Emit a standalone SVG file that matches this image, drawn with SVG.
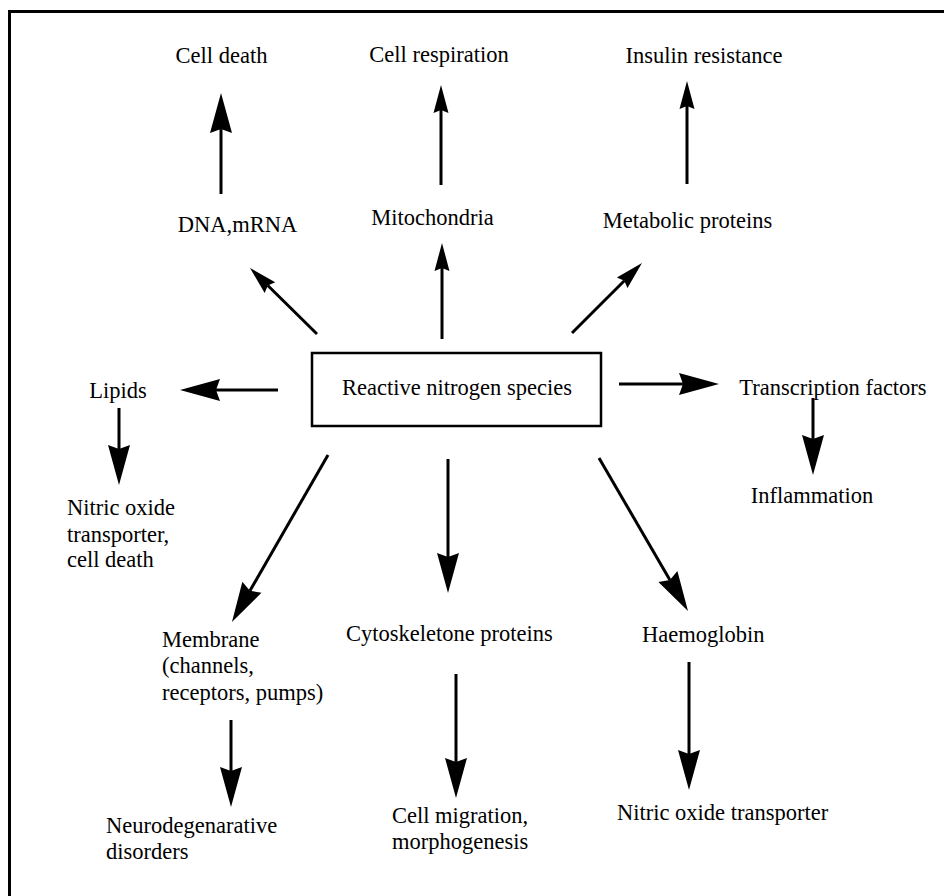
<svg xmlns="http://www.w3.org/2000/svg" width="944" height="896" viewBox="0 0 944 896">
<style>
text{font-family:"Liberation Serif","Times New Roman",serif;font-size:22.5px;fill:#000}
.c{text-anchor:middle}
.ln{stroke:#000;stroke-width:3;fill:none}
.big{marker-end:url(#big)}
.sm{marker-end:url(#sm)}
</style>
<defs>
<marker id="big" markerUnits="userSpaceOnUse" orient="auto" refX="4" refY="0" markerWidth="40" markerHeight="22" overflow="visible"><path d="M0,-11 L40,0 L0,11 L4,0 Z" fill="#000"/></marker>
<marker id="sm" markerUnits="userSpaceOnUse" orient="auto" refX="3" refY="0" markerWidth="28" markerHeight="15" overflow="visible"><path d="M0,-7.5 L28,0 L0,7.5 L3,0 Z" fill="#000"/></marker>
</defs>
<rect x="0" y="0" width="944" height="896" fill="#fff"/>
<rect x="9.5" y="11.5" width="1000" height="1000" fill="none" stroke="#000" stroke-width="3"/>
<g id="connectors">
<line class="ln big" x1="221" y1="194" x2="221" y2="129"/>
<line class="ln sm" x1="441" y1="185" x2="441" y2="110"/>
<line class="ln sm" x1="687" y1="184" x2="687" y2="106"/>
<line class="ln sm" x1="442" y1="339" x2="442" y2="268"/>
<line class="ln sm" x1="317" y1="334" x2="267.8" y2="285.5"/>
<line class="ln sm" x1="572" y1="333" x2="624.3" y2="280.7"/>
<line class="ln big" x1="278" y1="390" x2="216" y2="390"/>
<line class="ln big" x1="619" y1="384" x2="683" y2="384"/>
<line class="ln big" x1="119" y1="408" x2="119" y2="449"/>
<line class="ln big" x1="813" y1="398" x2="813" y2="439"/>
<line class="ln big" x1="328" y1="455" x2="249.9" y2="590.8"/>
<line class="ln big" x1="448" y1="459" x2="448" y2="557"/>
<line class="ln big" x1="599" y1="458" x2="669.9" y2="579.9"/>
<line class="ln big" x1="231" y1="720" x2="231" y2="771"/>
<line class="ln big" x1="456" y1="674" x2="456" y2="762"/>
<line class="ln big" x1="689" y1="662" x2="689" y2="754"/>
</g>
<g id="rns"><rect x="312" y="353" width="289" height="73" fill="#fff" stroke="#000" stroke-width="2.5"/><text class="c" x="457" y="395">Reactive nitrogen species</text></g>
<g id="cell-death"><text class="c" x="221.5" y="63">Cell death</text></g>
<g id="cell-respiration"><text class="c" x="439" y="62">Cell respiration</text></g>
<g id="insulin"><text class="c" x="704" y="63">Insulin resistance</text></g>
<g id="dna"><text class="c" x="237.5" y="232">DNA,mRNA</text></g>
<g id="mito"><text class="c" x="432.5" y="225">Mitochondria</text></g>
<g id="metabolic"><text class="c" x="687.5" y="228">Metabolic proteins</text></g>
<g id="lipids"><text class="c" x="118" y="398">Lipids</text></g>
<g id="transcription"><text class="c" x="833" y="395">Transcription factors</text></g>
<g id="inflammation"><text class="c" x="812" y="503">Inflammation</text></g>
<g id="no-cell-death"><text x="67" y="515">Nitric oxide</text><text x="67" y="541.5">transporter,</text><text x="67" y="567">cell death</text></g>
<g id="membrane"><text x="162" y="646.5">Membrane</text><text x="162" y="673">(channels,</text><text x="162" y="700">receptors, pumps)</text></g>
<g id="cytoskeleton"><text x="346" y="641">Cytoskeletone proteins</text></g>
<g id="haemoglobin"><text x="642" y="641.5">Haemoglobin</text></g>
<g id="neuro"><text x="106" y="833">Neurodegenarative</text><text x="106" y="858.5">disorders</text></g>
<g id="migration"><text x="392" y="823">Cell migration,</text><text x="392" y="849">morphogenesis</text></g>
<g id="no-transporter"><text x="617" y="820">Nitric oxide transporter</text></g>
</svg>
